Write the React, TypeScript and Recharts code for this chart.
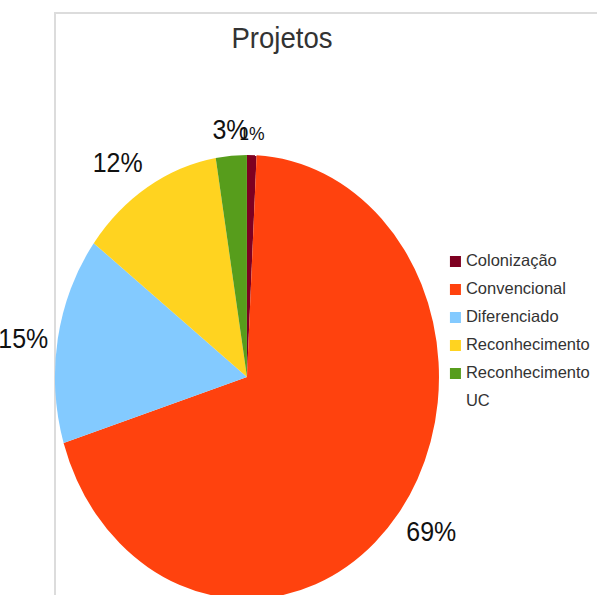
import React from 'react';
import { PieChart, Pie, Cell, Legend } from 'recharts';

const categories = ['Colonização', 'Convencional', 'Diferenciado', 'Reconhecimento', 'Reconhecimento UC'];
const values = [0.8, 69.4, 15.1, 12.1, 2.6];
const colors = ['#7e0021', '#ff420e', '#83caff', '#ffd320', '#579d1c'];
const title = 'Projetos';

const data = categories.map((name, i) => ({ name, value: values[i] }));

const SX = 0.865;
const FONT = '"Liberation Sans", Arial, sans-serif';

const renderLabel = (props: any) => {
  const { cx, cy, midAngle, outerRadius, percent } = props;
  const RAD = Math.PI / 180;
  const c = Math.cos(midAngle * RAD);
  const s = Math.sin(midAngle * RAD);
  const F = percent < 0.01 ? 19 : 27;
  const px = cx + 1.05 * outerRadius * c;
  const py = cy - 1.05 * outerRadius * s;
  const anchor = c > 0.3 ? 'start' : c < -0.3 ? 'end' : 'middle';
  const by = s > 0.3 ? py - 0.2 * F : s < -0.3 ? py + 0.8 * F : py + 0.4 * F;
  return (
    <text
      transform={`translate(${px},${by}) scale(${0.925 / SX},1)`}
      x={0}
      y={0}
      textAnchor={anchor}
      fontSize={F}
      fontFamily={FONT}
      fill="#111"
    >
      {`${Math.round(percent * 100)}%`}
    </text>
  );
};

const renderLegend = (props: any) => {
  const { payload } = props;
  return (
    <div
      style={{
        transform: `scaleX(${1 / SX})`,
        transformOrigin: '0 0',
        fontFamily: FONT,
        fontSize: 16.5,
        color: '#333',
        lineHeight: '28px',
      }}
    >
      {(payload || []).map((entry: any, i: number) => (
        <div key={i} style={{ display: 'flex', alignItems: 'flex-start' }}>
          <div
            style={{
              width: 11,
              height: 11,
              marginLeft: 1,
              marginTop: 9.5,
              background: entry.color,
              flex: 'none',
            }}
          />
          <div style={{ marginLeft: 5, width: 128 }}>{entry.value}</div>
        </div>
      ))}
    </div>
  );
};

export default function App() {
  return (
    <div
      style={{
        position: 'absolute',
        left: 0,
        top: 0,
        width: 597,
        height: 595,
        overflow: 'hidden',
        background: '#fff',
      }}
    >
      <div
        style={{
          position: 'absolute',
          left: 54,
          top: 12,
          width: 600,
          height: 600,
          borderTop: '2px solid #dcdcdc',
          borderLeft: '2px solid #dcdcdc',
        }}
      />
      <div
        style={{
          position: 'absolute',
          left: 181.5,
          top: 23.5,
          width: 200,
          textAlign: 'center',
          fontFamily: FONT,
          fontSize: 29,
          lineHeight: '29px',
          color: '#333',
          transform: 'scaleX(0.95)',
        }}
      >
        {title}
      </div>
      <div
        style={{
          position: 'absolute',
          left: 0,
          top: 0,
          width: 690,
          height: 595,
          transform: `scaleX(${SX})`,
          transformOrigin: '0 0',
        }}
      >
        <PieChart width={690} height={595} margin={{ top: 0, right: 0, bottom: 0, left: 0 }}>
          <Pie
            data={data}
            dataKey="value"
            nameKey="name"
            cx={285.5}
            cy={377}
            outerRadius={222}
            startAngle={90}
            endAngle={-270}
            stroke="none"
            label={renderLabel}
            labelLine={false}
            isAnimationActive={false}
          >
            {data.map((d, i) => (
              <Cell key={d.name} fill={colors[i]} />
            ))}
          </Pie>
          <Legend
            layout="vertical"
            align="right"
            verticalAlign="top"
            content={renderLegend}
            wrapperStyle={{ position: 'absolute', left: 449 / SX, top: 246, right: 'auto', width: 150 / SX }}
          />
        </PieChart>
      </div>
    </div>
  );
}
